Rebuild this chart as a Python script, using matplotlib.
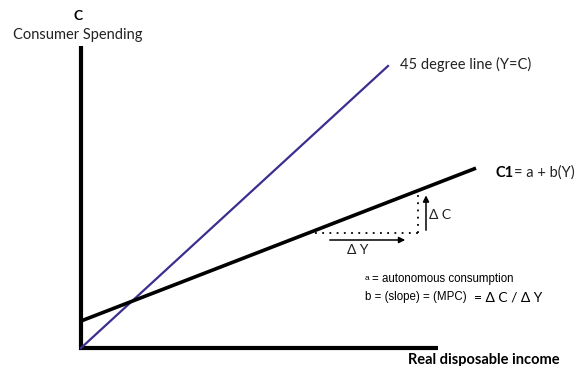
import numpy as np
import matplotlib.pyplot as plt

# diagram units: origin at the corner of the axes, y upwards
axis_len_x = 357
axis_len_y = 302

line45_x = [0, 307]
line45_y = [0, 282]

a = 27            # autonomous consumption (intercept)
b = 0.387         # MPC (slope)
c1_x = np.array([0, 395])
c1_y = a + b * c1_x

dy_x = [234, 337]     # dotted run under the C1 line
dy_level = 115
arrow_y_x = [246, 327]
arrow_y_level = 108
arrow_c_x = 345

fig = plt.figure(figsize=(5.79, 3.66), dpi=100)
ax = fig.add_axes([0, 0, 1, 1])
ax.set_xlim(-81, 498)
ax.set_ylim(-18, 348)
ax.axis('off')

main_font = ['Lato', 'DejaVu Sans']
small_font = ['Liberation Sans', 'DejaVu Sans']

# axes
ax.plot([0, 0], [-2, axis_len_y], color='black', lw=3.0, solid_capstyle='butt')
ax.plot([-2, axis_len_x], [0, 0], color='black', lw=3.0, solid_capstyle='butt')

# 45 degree line and consumption function
ax.plot(line45_x, line45_y, color='#3a2f8f', lw=1.6)
ax.plot(c1_x, c1_y, color='black', lw=2.6, solid_capstyle='butt')

# rise / run
top = a + b * dy_x[1]
ax.plot(dy_x, [dy_level, dy_level], color='black', lw=1.3, ls=(0, (1, 3)))
ax.plot([dy_x[1], dy_x[1]], [dy_level, top], color='black', lw=1.3, ls=(0, (1, 3)))
ax.annotate('', xy=(arrow_y_x[1], arrow_y_level), xytext=(arrow_y_x[0], arrow_y_level),
            arrowprops=dict(arrowstyle='-|>', color='black', lw=1.1, mutation_scale=9))
ax.annotate('', xy=(arrow_c_x, top - 2), xytext=(arrow_c_x, dy_level),
            arrowprops=dict(arrowstyle='-|>', color='black', lw=1.1, mutation_scale=9))
ax.text(277, 98, 'Δ Y', fontsize=10, family=main_font, ha='center', va='center', color='#222222')
ax.text(348, 133, 'Δ C', fontsize=10, family=main_font, ha='left', va='center', color='#222222')

# labels
ax.text(-3, 332, 'C', fontsize=10, family=main_font, weight='bold', ha='center', va='center')
ax.text(-3, 313, 'Consumer Spending', fontsize=10.5, family=main_font, ha='center', va='center',
        color='#222222')
ax.text(319, 284, '45 degree line (Y=C)', fontsize=10.5, family=main_font, ha='left',
        va='center', color='#222222')
ax.text(415, 175, 'C1', fontsize=10.5, family=main_font, weight='bold', ha='left', va='center')
ax.text(433, 175, '= a + b(Y)', fontsize=10.5, family=main_font, ha='left', va='center',
        color='#222222')
ax.text(327, -12, 'Real disposable income', fontsize=10.5, family=main_font, weight='bold',
        ha='left', va='center')

ax.text(284, 69, 'a', fontsize=6, family=small_font, ha='left', va='center')
ax.text(291, 69, '= autonomous consumption', fontsize=8.3, family=small_font, ha='left',
        va='center')
ax.text(284, 51, 'b = (slope) = (MPC)', fontsize=8.3, family=small_font, ha='left', va='center')
ax.text(393, 51, '= Δ C / Δ Y', fontsize=10, family=main_font, ha='left', va='center')

fig.savefig('out.png', dpi=100)
